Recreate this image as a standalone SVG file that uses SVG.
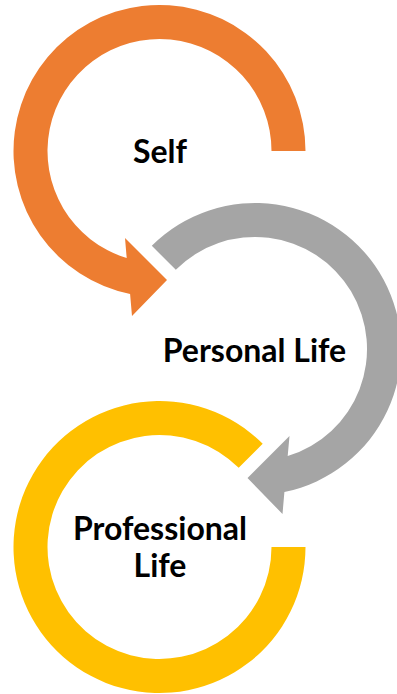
<svg xmlns="http://www.w3.org/2000/svg" width="397" height="694" viewBox="0 0 397 694">
<style>
.lbl{font-family:Lato,"Liberation Sans",sans-serif;font-weight:700;font-size:32px;fill:#000;text-anchor:middle}
.orange{fill:#ED7D31}
.gray{fill:#A5A5A5}
.yellow{fill:#FFC000}
</style>
<rect width="397" height="694" fill="#fff"/>
<g id="node-self">
<path class="orange" d="M305.5,151 A146,146 0 1 0 130.1,294 L132,316 L167,280 L125,238 L126.7,258.1 A112,112 0 1 1 271.5,151 Z"/>
<text class="lbl" x="160" y="163">Self</text>
</g>
<g id="node-personal">
<path class="gray" d="M151.8,245.8 A146,146 0 1 1 284.4,492 L282.5,514 L247.5,478 L289.5,436 L287.7,456.1 A112,112 0 1 0 175.8,269.8 Z"/>
<text class="lbl" x="254.5" y="362">Personal Life</text>
</g>
<g id="node-professional">
<path class="yellow" d="M305.5,547 A146,146 0 1 1 262.7,443.8 L238.7,467.8 A112,112 0 1 0 271.5,547 Z"/>
<text class="lbl" x="160" y="540">Professional</text>
<text class="lbl" x="160" y="577">Life</text>
</g>
<g id="connectors"></g>
</svg>
